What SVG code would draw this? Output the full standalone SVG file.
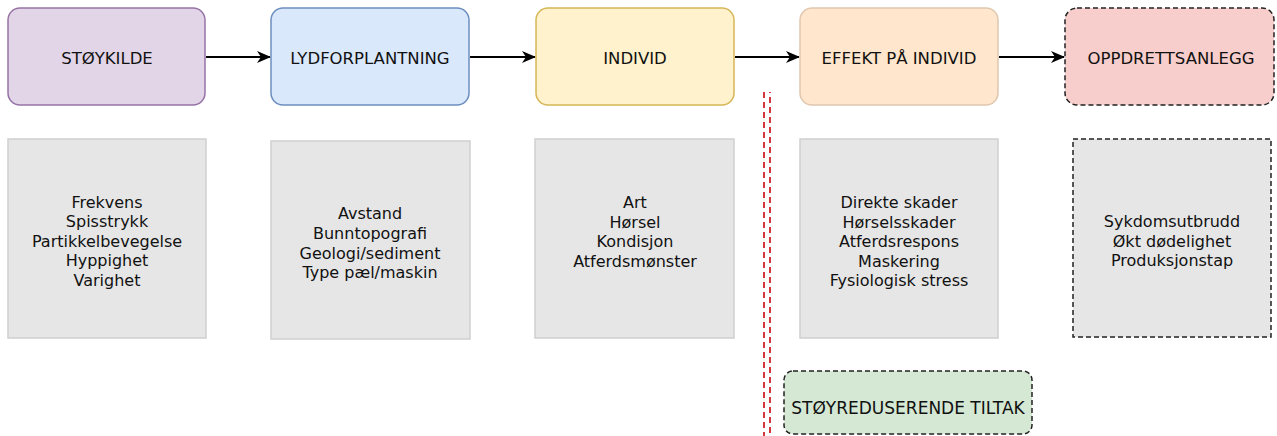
<svg xmlns="http://www.w3.org/2000/svg" width="1277" height="436" viewBox="0 0 1277 436">
<defs>
<style>
text{font-family:"DejaVu Sans","Noto Sans",sans-serif;fill:#111;text-anchor:middle}
.cap{font-size:16.5px}
.lst{font-size:16px}
.gray{fill:#e6e6e6;stroke:#cfcfcf;stroke-width:1.5}
.dash{stroke:#222;stroke-width:1.5;stroke-dasharray:5 3}
.conn{stroke:#000;stroke-width:2;fill:none}
.red{stroke:#d0222a;stroke-width:1.8;stroke-dasharray:6 4;fill:none}
</style>
<marker id="arr" viewBox="0 0 14 12" refX="13" refY="6" markerWidth="14" markerHeight="12" markerUnits="userSpaceOnUse" orient="auto">
<path d="M0,0 L14,6 L0,12 L4,6 Z" fill="#000"/>
</marker>
</defs>
<rect width="1277" height="436" fill="#fff"/>
<g id="connectors">
<line class="conn" x1="206" y1="57" x2="270" y2="57" marker-end="url(#arr)"/>
<line class="conn" x1="470" y1="57" x2="535" y2="57" marker-end="url(#arr)"/>
<line class="conn" x1="735" y1="57" x2="799" y2="57" marker-end="url(#arr)"/>
<line class="conn" x1="999" y1="57" x2="1064" y2="57" marker-end="url(#arr)"/>
<line class="red" x1="764" y1="92" x2="764" y2="436"/>
<line class="red" x1="770" y1="92" x2="770" y2="436" stroke-dashoffset="5"/>
</g>
<g id="stoykilde">
<rect x="8" y="8" width="197" height="97" rx="12" fill="#e1d5e7" stroke="#9673a6" stroke-width="1.5"/>
<text class="cap" x="107" y="64">STØYKILDE</text>
</g>
<g id="lydforplantning">
<rect x="271" y="8" width="198" height="97" rx="12" fill="#dae8fc" stroke="#6c8ebf" stroke-width="1.5"/>
<text class="cap" x="370" y="64">LYDFORPLANTNING</text>
</g>
<g id="individ">
<rect x="536" y="8" width="198" height="97" rx="12" fill="#fff2cc" stroke="#d6b656" stroke-width="1.5"/>
<text class="cap" x="635" y="64">INDIVID</text>
</g>
<g id="effekt">
<rect x="800" y="8" width="198" height="97" rx="12" fill="#ffe6cc" stroke="#e0c8b0" stroke-width="1.5"/>
<text class="cap" x="899" y="64">EFFEKT PÅ INDIVID</text>
</g>
<g id="oppdrettsanlegg">
<rect x="1065" y="8" width="209" height="97" rx="12" fill="#f8cecc" class="dash"/>
<text class="cap" x="1171" y="64">OPPDRETTSANLEGG</text>
</g>
<g id="stoykilde-detaljer">
<rect class="gray" x="8" y="139" width="198" height="199"/>
<text class="lst" x="107" y="208">Frekvens</text>
<text class="lst" x="107" y="227">Spisstrykk</text>
<text class="lst" x="107" y="246.5">Partikkelbevegelse</text>
<text class="lst" x="107" y="266">Hyppighet</text>
<text class="lst" x="107" y="285.5">Varighet</text>
</g>
<g id="lydforplantning-detaljer">
<rect class="gray" x="271" y="141" width="199" height="198"/>
<text class="lst" x="370" y="219">Avstand</text>
<text class="lst" x="370" y="239">Bunntopografi</text>
<text class="lst" x="370" y="258.5">Geologi/sediment</text>
<text class="lst" x="370" y="278">Type pæl/maskin</text>
</g>
<g id="individ-detaljer">
<rect class="gray" x="535" y="139" width="199" height="199"/>
<text class="lst" x="635" y="208">Art</text>
<text class="lst" x="635" y="227.5">Hørsel</text>
<text class="lst" x="635" y="247">Kondisjon</text>
<text class="lst" x="635" y="266.5">Atferdsmønster</text>
</g>
<g id="effekt-detaljer">
<rect class="gray" x="800" y="139" width="198" height="199"/>
<text class="lst" x="899" y="208">Direkte skader</text>
<text class="lst" x="899" y="227.5">Hørselsskader</text>
<text class="lst" x="899" y="247">Atferdsrespons</text>
<text class="lst" x="899" y="266.5">Maskering</text>
<text class="lst" x="899" y="286">Fysiologisk stress</text>
</g>
<g id="oppdrett-detaljer">
<rect x="1073" y="139" width="198" height="198" fill="#e6e6e6" class="dash"/>
<text class="lst" x="1172" y="227">Sykdomsutbrudd</text>
<text class="lst" x="1172" y="246.5">Økt dødelighet</text>
<text class="lst" x="1172" y="266">Produksjonstap</text>
</g>
<g id="tiltak">
<rect x="784" y="371" width="248" height="63" rx="9" fill="#d5e8d4" class="dash"/>
<text x="908" y="414" style="font-size:17px">STØYREDUSERENDE TILTAK</text>
</g>
</svg>
